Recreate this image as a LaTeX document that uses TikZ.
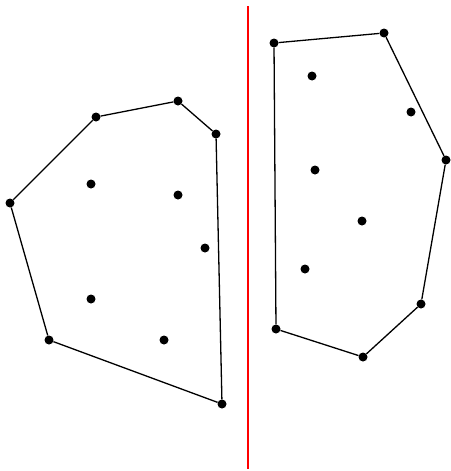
\documentclass[tikz,border=0pt]{standalone}
\begin{document}
\begin{tikzpicture}[x=1pt,y=-1pt,
  pt/.style={circle,fill=black,inner sep=0pt,minimum size=9pt},
  edge/.style={line width=1.3pt,black}]
\useasboundingbox (0,0) rectangle (450,471);
% left polygon
\node[pt] (l1) at (96,117) {};
\node[pt] (l2) at (178,101) {};
\node[pt] (l3) at (216,134) {};
\node[pt] (l4) at (222,404) {};
\node[pt] (l5) at (49,340) {};
\node[pt] (l6) at (10,203) {};
\node[pt] (li1) at (91,184) {};
\node[pt] (li2) at (178,195) {};
\node[pt] (li3) at (205,248) {};
\node[pt] (li4) at (91,299) {};
\node[pt] (li5) at (164,340) {};
\draw[edge] (l1)--(l2)--(l3)--(l4)--(l5)--(l6)--(l1);
% right polygon
\node[pt] (r1) at (274,43) {};
\node[pt] (r2) at (384,33) {};
\node[pt] (r3) at (446,160) {};
\node[pt] (r4) at (421,304) {};
\node[pt] (r5) at (363,357) {};
\node[pt] (r6) at (276,329) {};
\node[pt] (ri1) at (312,76) {};
\node[pt] (ri2) at (411,112) {};
\node[pt] (ri3) at (315,170) {};
\node[pt] (ri4) at (362,221) {};
\node[pt] (ri5) at (305,269) {};
\draw[edge] (r1)--(r2)--(r3)--(r4)--(r5)--(r6)--(r1);
% separator
\coordinate (s1) at (248,6);
\coordinate (s2) at (248,469);
\draw[red,line width=1.2pt] (s1)--(s2);
\end{tikzpicture}
\end{document}
